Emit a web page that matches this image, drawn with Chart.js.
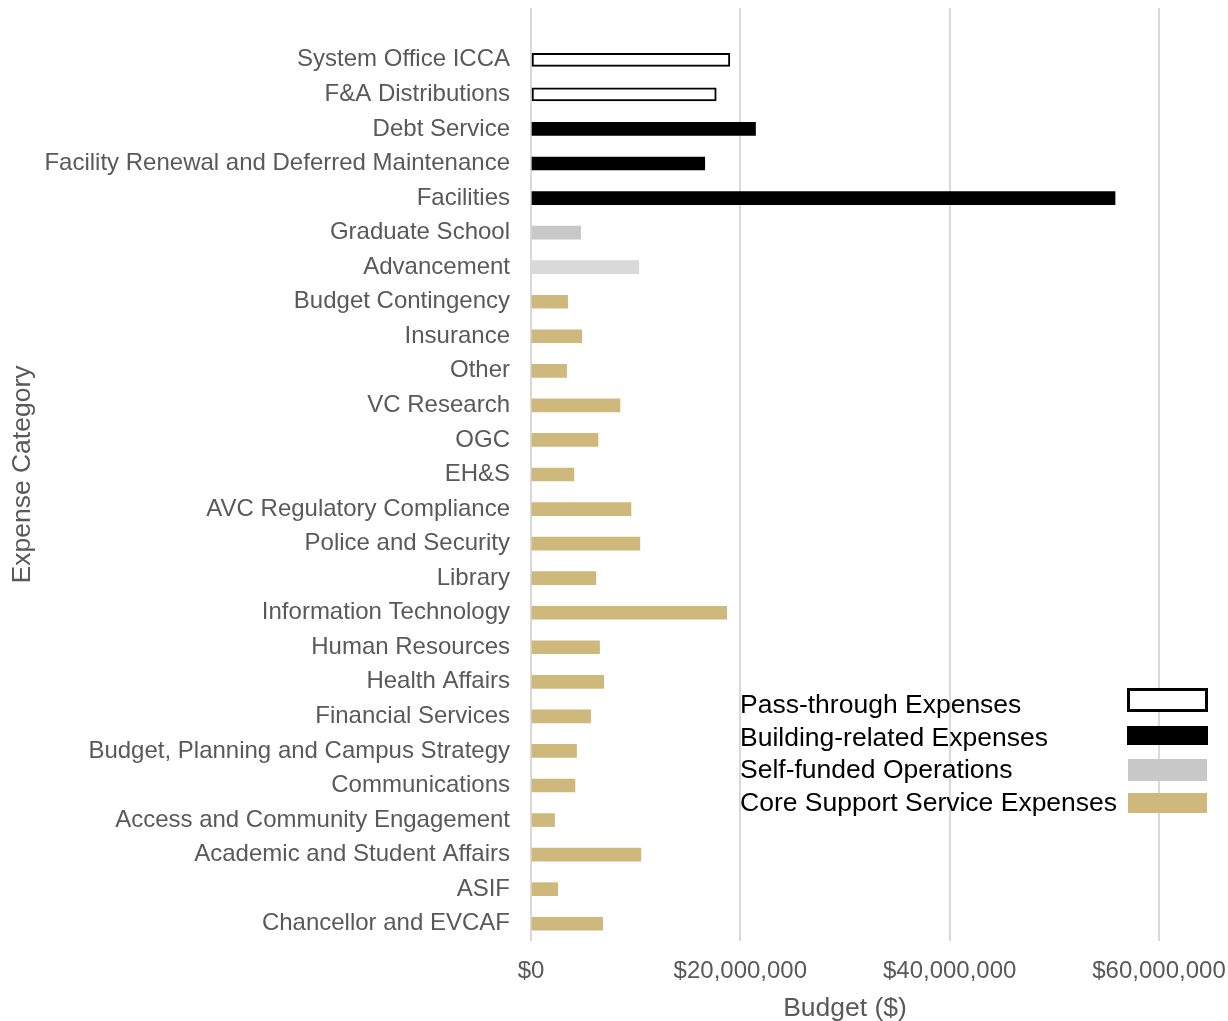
<!DOCTYPE html>
<html>
<head>
<meta charset="utf-8">
<script src="https://cdn.jsdelivr.net/npm/chart.js@4.4.0/dist/chart.umd.min.js"></script>
<style>
  html, body { margin: 0; padding: 0; background: #fff; }
  #wrap { position: relative; width: 1228px; height: 1021px; }
  #legend { position: absolute; left: 740px; top: 688px; font-family: Arial, "Liberation Sans", sans-serif; font-size: 26.5px; color: #000; }
  .row { position: relative; height: 32.5px; width: 470px; }
  .row span { position: absolute; left: 0; top: 0; line-height: 32px; white-space: nowrap; }
  .sw { position: absolute; box-sizing: border-box; }
</style>
</head>
<body>
<div id="wrap">
  <canvas id="myChart" width="1228" height="1021"></canvas>
  <div id="legend"></div>
</div>
<script>
'use strict';

// categories top to bottom, first one is the blank row at the top of the plot
const categories = [
  '', 'System Office ICCA', 'F&A Distributions', 'Debt Service',
  'Facility Renewal and Deferred Maintenance', 'Facilities', 'Graduate School',
  'Advancement', 'Budget Contingency', 'Insurance', 'Other', 'VC Research',
  'OGC', 'EH&S', 'AVC Regulatory Compliance', 'Police and Security', 'Library',
  'Information Technology', 'Human Resources', 'Health Affairs',
  'Financial Services', 'Budget, Planning and Campus Strategy', 'Communications',
  'Access and Community Engagement', 'Academic and Student Affairs', 'ASIF',
  'Chancellor and EVCAF'
];

const budget = [
  null, 19000000, 17700000, 21450000,
  16600000, 55800000, 4750000,
  10300000, 3500000, 4850000, 3400000, 8500000,
  6400000, 4100000, 9550000, 10400000, 6200000,
  18700000, 6550000, 6950000,
  5700000, 4350000, 4200000,
  2250000, 10500000, 2550000,
  6850000
];

const groups = [
  null, 'pass', 'pass', 'building',
  'building', 'building', 'self',
  'self2', 'core', 'core', 'core', 'core',
  'core', 'core', 'core', 'core', 'core',
  'core', 'core', 'core',
  'core', 'core', 'core',
  'core', 'core', 'core',
  'core'
];

const xTicks = [0, 20000000, 40000000, 60000000];

const legendLabels = ['Pass-through Expenses', 'Building-related Expenses', 'Self-funded Operations', 'Core Support Service Expenses'];
const legendKeys = ['pass', 'building', 'self', 'core'];

const fillFor = { pass: '#FFFFFF', building: '#000000', self: '#C8C8C8', self2: '#D9D9D9', core: '#CFB87C' };
const borderFor = { pass: 2, building: 0, self: 0, self2: 0, core: 0 };

const textGray = '#595959';
const font = 'Arial, "Liberation Sans", sans-serif';

const bg = groups.map(g => g ? fillFor[g] : 'rgba(0,0,0,0)');
const bw = groups.map(g => g ? borderFor[g] : 0);

const config = {
  type: 'bar',
  data: {
    labels: categories,
    datasets: [{
      data: budget,
      backgroundColor: bg,
      borderColor: '#000000',
      borderWidth: bw,
      borderSkipped: false,
      barThickness: 13
    }]
  },
  options: {
    indexAxis: 'y',
    responsive: false,
    animation: false,
    layout: { padding: { top: 8, right: 69, left: 0, bottom: 0 } },
    plugins: { legend: { display: false }, tooltip: { enabled: false } },
    scales: {
      x: {
        min: 0,
        max: 60000000,
        afterBuildTicks: s => { s.ticks = xTicks.map(v => ({ value: v })); },
        afterFit: s => { s.height = 80; s.paddingLeft = 0; s.paddingRight = 0; },
        border: { display: false },
        grid: { color: '#D9D9D9', lineWidth: 2, drawTicks: false },
        ticks: {
          color: textGray,
          font: { family: font, size: 24 },
          padding: 16,
          maxRotation: 0,
          callback: v => '$' + Number(v).toLocaleString('en-US')
        },
        title: { display: true, text: 'Budget ($)', color: textGray, font: { family: font, size: 26.5 }, padding: { top: 8, bottom: -4 } }
      },
      y: {
        afterFit: s => { s.width = 531; s.paddingTop = 0; s.paddingBottom = 0; },
        border: { display: false },
        grid: { display: false, drawTicks: false },
        ticks: { color: textGray, font: { family: font, size: 24 }, padding: 21, autoSkip: false },
        title: { display: true, text: 'Expense Category', color: textGray, font: { family: font, size: 26.5 }, padding: { top: 7, bottom: 0 } }
      }
    }
  }
};

const myChart = new Chart(document.getElementById('myChart'), config);

// legend: text on the left, swatch on the right
const legend = document.getElementById('legend');
const swatchBox = [
  { left: 387, top: 0, w: 81, h: 24 },
  { left: 387, top: 5, w: 81, h: 19 },
  { left: 388, top: 6, w: 79, h: 22 },
  { left: 388, top: 7, w: 79, h: 20 }
];
legendLabels.forEach((label, i) => {
  const row = document.createElement('div');
  row.className = 'row';
  const txt = document.createElement('span');
  txt.textContent = label;
  const sw = document.createElement('div');
  sw.className = 'sw';
  const key = legendKeys[i];
  sw.style.left = swatchBox[i].left + 'px';
  sw.style.top = swatchBox[i].top + 'px';
  sw.style.width = swatchBox[i].w + 'px';
  sw.style.height = swatchBox[i].h + 'px';
  sw.style.background = fillFor[key];
  if (borderFor[key]) sw.style.border = '3px solid #000';
  row.appendChild(txt);
  row.appendChild(sw);
  legend.appendChild(row);
});
</script>
</body>
</html>
